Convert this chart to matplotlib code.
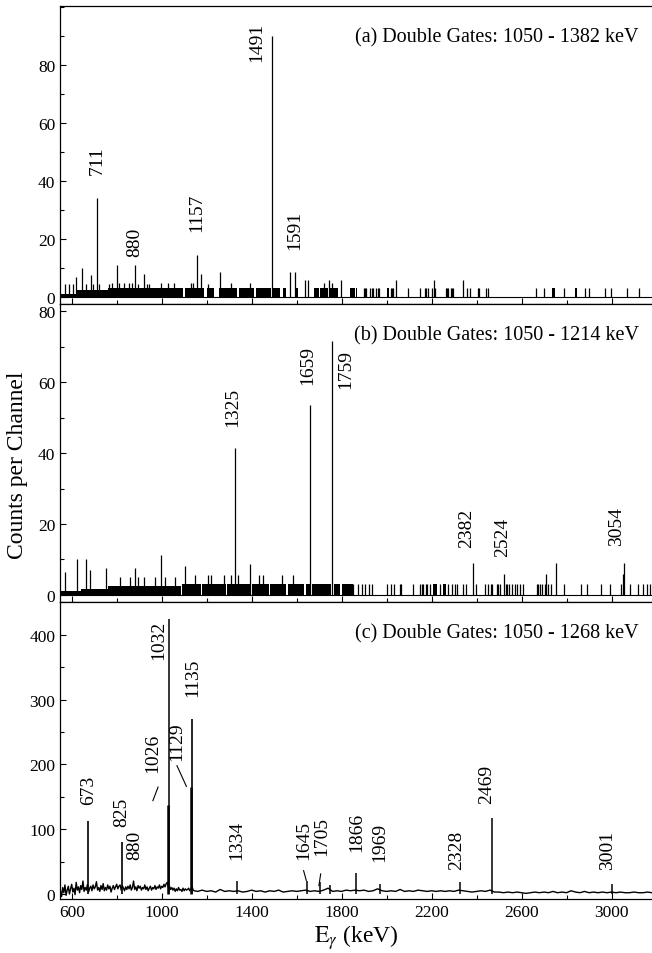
import numpy as np
import matplotlib
matplotlib.use('Agg')
import matplotlib.pyplot as plt
from matplotlib.ticker import FixedLocator

matplotlib.rcParams['font.family'] = 'Liberation Serif'
matplotlib.rcParams['mathtext.fontset'] = 'stix'
matplotlib.rcParams['font.size'] = 13

####################################################################
# (a) gate 1050 - 1382 keV
####################################################################
a_title = "(a) Double Gates: 1050 - 1382 keV"
# unresolved low-count regions: start, end, counts
a_blk_lo = [550, 620, 760, 1000, 1105, 1200, 1255, 1345, 1420, 1497, 1540, 1597, 1678, 1706, 1750, 1836, 1862,
            2000, 2735, 2838]
a_blk_hi = [620, 760, 1000, 1095, 1190, 1232, 1335, 1410, 1486, 1527, 1552, 1606, 1700, 1738, 1782, 1858, 1870,
            2012, 2748, 2848]
a_blk_h = [1.2, 2.5, 3, 3, 3, 3, 3, 3, 3, 3, 3, 3, 3, 3, 3, 3, 3, 3, 3, 3]
# single channels
a_ch_e = [570, 590, 605, 619, 645, 664, 686, 696, 711, 723, 767, 779, 802, 812, 834, 856, 867, 880, 893, 923,
          935, 945, 997, 1027, 1056, 1130, 1138, 1157, 1175, 1204, 1261, 1308, 1394, 1491, 1572, 1591, 1637, 1649,
          1723, 1742, 1756, 1797, 1898, 1904, 1910, 1928, 1933, 1938, 1955, 1960, 1965, 2020, 2025, 2030, 2044,
          2096, 2148, 2170, 2176, 2182, 2203, 2209, 2215, 2262, 2267, 2272, 2288, 2292, 2296, 2341, 2356, 2370,
          2405, 2410, 2441, 2452, 2664, 2701, 2790, 2881, 2899, 2970, 2997, 3068, 3121]
a_ch_h = [4.5, 4.5, 4.5, 7, 10, 4.5, 7.5, 4.5, 34, 4.5, 4.5, 5, 11, 5, 5, 5, 5, 11, 4.5, 8,
          4.5, 4.5, 5, 5, 5, 5, 5, 14.5, 8, 4.5, 8.5, 5, 5, 90, 8.5, 8.5, 6, 6,
          5, 6, 5, 6, 3, 3, 3, 3, 3, 3, 3, 3, 3, 3, 3, 3, 6,
          3, 3, 3, 3, 3, 3, 6, 3, 3, 3, 3, 3, 3, 3, 6, 3, 3,
          3, 3, 3, 3, 3, 3, 3, 3, 3, 3, 3, 3, 3]
a_lab = ["711", "880", "1157", "1491", "1591"]
a_lab_e = [714, 880, 1157, 1424, 1591]
a_lab_y = [42.4, 14.2, 22.9, 81.5, 16.5]

####################################################################
# (b) gate 1050 - 1214 keV
####################################################################
b_title = "(b) Double Gates: 1050 - 1214 keV"
b_blk_lo = [550, 640, 760, 1090, 1180, 1290, 1400, 1480, 1560, 1640, 1670, 1765, 1800, 2205, 2250]
b_blk_hi = [640, 760, 1085, 1175, 1285, 1395, 1475, 1555, 1635, 1665, 1755, 1795, 1850, 2225, 2262]
b_blk_h = [1, 1.8, 2.6, 3, 3, 3, 3, 3, 3, 3, 3, 3, 3, 3, 3]
b_ch_e = [569, 624, 665, 683, 754, 813, 858, 880, 895, 920, 969, 996, 1013, 1058, 1102, 1147, 1206, 1218,
          1276, 1310, 1325, 1341, 1394, 1431, 1450, 1536, 1584, 1659, 1759,
          1852, 1871, 1889, 1903, 1921, 1936, 2004, 2019, 2034, 2059, 2066, 2118, 2148, 2156, 2163, 2173,
          2180, 2193, 2237, 2274, 2289, 2304, 2315, 2338, 2352, 2382, 2396, 2437, 2452, 2464, 2470, 2489,
          2496, 2504, 2524, 2529, 2536, 2545, 2558, 2571, 2580, 2592, 2608, 2667, 2674, 2682, 2690, 2703,
          2710, 2718, 2733, 2751, 2789, 2866, 2889, 2953, 2993, 3042, 3050, 3054, 3081, 3118, 3141, 3156, 3170]
b_ch_h = [6.6, 10, 10, 7, 7.5, 5, 5, 7.5, 5, 5, 5, 11.3, 5, 5, 8.3, 5.5, 5.5, 5.5,
          5.5, 5.5, 41.6, 5.5, 8.6, 5.5, 5.5, 5.5, 5.5, 53.7, 71.7,
          3, 3, 3, 3, 3, 3, 3, 3, 3, 3, 3, 3, 3, 3, 3, 3,
          3, 3, 3, 3, 3, 3, 3, 3, 3, 9, 3, 3, 3, 3, 3, 3,
          3, 3, 6, 3, 3, 3, 3, 3, 3, 3, 3, 3, 3, 3, 3, 3,
          6, 3, 3, 9, 3, 3, 3, 3, 3, 3, 6, 9, 3, 3, 3, 3, 3]
b_lab = ["1325", "1659", "1759", "2382", "2524", "3054"]
b_lab_e = [1317, 1650, 1818, 2354, 2517, 3024]
b_lab_y = [47.6, 59.5, 58.3, 13.4, 10.9, 14.1]

####################################################################
# (c) gate 1050 - 1268 keV
####################################################################
c_title = "(c) Double Gates: 1050 - 1268 keV"
# background, 5 keV steps from 550 to 1145 keV
c_bg1 = [5, -4, 10, 2, 14, -2, 6, 12, 0, 8, 15, 3, 9, -1, 18, 6, 11, 2, 13, 7,
         20, 4, 10, 6, 15, 3, 9, 12, 5, 14, 8, 11, 19, 6, 10, 4, 13, 7, 16, 5,
         10, 6, 14, 8, 12, 3, 9, 13, 7, 11, 15, 8, 12, 14, 6, 13, 9, 5, 11, 7,
         12, 8, 14, 6, 10, 20, 7, 11, 5, 13, 9, 12, 6, 10, 8, 14, 7, 11, 5, 9,
         12, 6, 10, 8, 13, 7, 11, 9, 14, 8, 12, 10, 15, 11, 16, 18, 9, 12, 7, 10,
         6, 9, 4, 8, 5, 10, 6, 7, 4, 9, 5, 8, 6, 7, 9, 5, 8, 12, 6, 5]
# background, 20 keV steps from 1160 to 3180 keV
c_bg2 = [4, 6, 4, 5, 3, 7, 4, 5, 4, 5, 3, 4, 6, 4, 5, 3, 5, 4, 6, 3,
         4, 5, 4, 5, 6, 4, 5, 4, 6, 9, 4, 5, 4, 6, 5, 6, 5, 6, 4, 5,
         8, 5, 4, 5, 4, 7, 4, 5, 4, 6, 5, 4, 5, 4, 5, 4, 5, 4, 6, 5,
         4, 3, 4, 5, 4, 6, 3, 3, 2, 3, 2, 3, 2, 1, 2, 3, 2, 3, 2, 4,
         2, 3, 2, 5, 3, 2, 4, 2, 3, 2, 3, 2, 3, 2, 3, 2, 2, 3, 2, 2,
         3, 2]
c_pk_e = [673, 825, 1026, 1032, 1129, 1135, 1334, 1645, 1705, 1747, 1866, 1969, 2328, 2469, 3001]
c_pk_h = [112, 80, 138, 425, 165, 270, 20, 20, 18, 14, 33, 15, 19, 117, 15]
c_lab = ["673", "825", "880", "1026", "1032", "1129", "1135", "1334", "1645", "1705",
         "1866", "1969", "2328", "2469", "3001"]
c_lab_e = [677, 821, 880, 959, 987, 1065, 1136, 1335, 1631, 1710, 1865, 1969, 2310, 2443, 2984]
c_lab_y = [139, 105, 54, 188, 363, 206, 306, 54, 54, 60, 67, 51, 39, 141, 39]
# short pointer lines for crowded labels: (x0, y0, x1, y1)
c_ptr = [(961, 144, 984, 165), (1068, 198, 1110, 166), (1631, 36, 1643, 21), (1707, 31, 1699, 13)]

fig = plt.figure(figsize=(6.52, 9.54), dpi=100)
left, width = 60 / 652, 592 / 652
ax_a = fig.add_axes([left, 1 - 305 / 954, width, 298 / 954])
ax_b = fig.add_axes([left, 1 - 603 / 954, width, 298 / 954])
ax_c = fig.add_axes([left, 1 - 900 / 954, width, 297 / 954])


def style_axis(ax, ylim, ymax, ymaj, show_x):
    ax.set_xlim(548, 3180)
    ax.set_ylim(*ylim)
    ax.xaxis.set_major_locator(FixedLocator(np.arange(600, 3200, 400)))
    ax.xaxis.set_minor_locator(FixedLocator(np.arange(600, 3200, 200)))
    ax.yaxis.set_major_locator(FixedLocator(np.arange(0, ymax + 1, ymaj)))
    ax.yaxis.set_minor_locator(FixedLocator(np.arange(0, ylim[1], ymaj / 2)))
    ax.tick_params(which='both', direction='in', top=False, right=False, width=0.8, labelsize=12.5)
    ax.tick_params(which='major', length=4)
    ax.tick_params(which='minor', length=3)
    ax.spines['right'].set_visible(False)
    for s in ['left', 'top', 'bottom']:
        ax.spines[s].set_linewidth(0.9)
    if not show_x:
        ax.tick_params(axis='x', labelbottom=False)


def draw_sparse(ax, blk_lo, blk_hi, blk_h, ch_e, ch_h):
    ax.axhline(0, color='k', lw=0.8)
    ax.bar(blk_lo, blk_h, width=np.array(blk_hi) - np.array(blk_lo), align='edge', color='k', lw=0)
    ax.vlines(ch_e, 0, ch_h, color='k', lw=0.9)


def put_labels(ax, labs, xs, ys, title):
    for t, x, y in zip(labs, xs, ys):
        ax.text(x, y, t, rotation=90, ha='center', va='bottom', fontsize=14)
    ax.text(0.978, 0.896, title, transform=ax.transAxes, ha='right', va='center', fontsize=14.5)


draw_sparse(ax_a, a_blk_lo, a_blk_hi, a_blk_h, a_ch_e, a_ch_h)
put_labels(ax_a, a_lab, a_lab_e, a_lab_y, a_title)
style_axis(ax_a, (-2.4, 100.3), 80, 20, False)

draw_sparse(ax_b, b_blk_lo, b_blk_hi, b_blk_h, b_ch_e, b_ch_h)
put_labels(ax_b, b_lab, b_lab_e, b_lab_y, b_title)
style_axis(ax_b, (-2.0, 82.1), 80, 20, False)

c_x = np.concatenate([np.arange(550, 1150, 5), np.arange(1160, 3200, 20)])
c_y = np.concatenate([c_bg1, c_bg2])
ax_c.plot(c_x, c_y, color='k', lw=1.0)
ax_c.vlines(c_pk_e[:2], 0, c_pk_h[:2], color='k', lw=1.2)
ax_c.vlines(c_pk_e[2:6], 0, c_pk_h[2:6], color='k', lw=[1.8, 1.1, 1.8, 1.2])
ax_c.vlines(c_pk_e[6:], 0, c_pk_h[6:], color='k', lw=1.1)
for x0, y0, x1, y1 in c_ptr:
    ax_c.plot([x0, x1], [y0, y1], color='k', lw=0.8)
put_labels(ax_c, c_lab, c_lab_e, c_lab_y, c_title)
style_axis(ax_c, (-7.7, 450.5), 400, 100, True)
ax_c.set_xlabel(r'$\mathrm{E}_\gamma$ (keV)', fontsize=17, labelpad=2)

fig.text(18 / 652, 1 - 465 / 954, "Counts per Channel", rotation=90, ha='center', va='center', fontsize=17)

plt.savefig('out.png', dpi=100)
plt.close()
